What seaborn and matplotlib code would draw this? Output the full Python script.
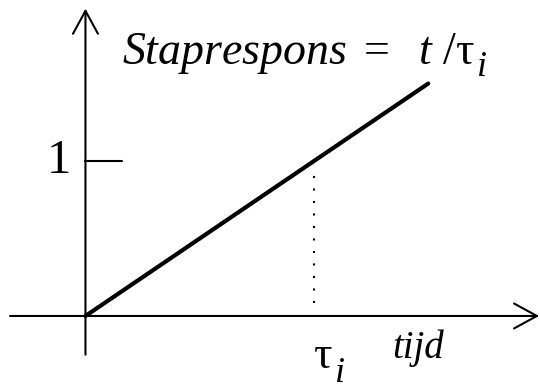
import matplotlib
matplotlib.use('Agg')
import matplotlib.pyplot as plt
import seaborn as sns

sns.set_style('white')
serif = 'Liberation Serif'
plt.rcParams['font.family'] = [serif, 'DejaVu Serif']
plt.rcParams['text.color'] = 'black'
plt.rcParams['mathtext.fontset'] = 'custom'
plt.rcParams['mathtext.rm'] = serif
plt.rcParams['mathtext.it'] = serif + ':italic'

# step response of an integrator: t / tau_i
tijd = [0.0, 1.5]
respons = [0.0, 1.5]
tau_i = 1.0
y_ticks = [1]
y_tick_labels = ['1']
x_label = 'tijd'
formula = r'$Staprespons\ =\ \ t\ /\mathrm{\tau}$'
subscript = 'i'

fig = plt.figure(figsize=(5.4, 3.84), dpi=100)
ax = fig.add_axes([0, 0, 1, 1])
ax.set_xlim(-0.374, 1.989)
ax.set_ylim(-0.439, 2.039)
ax.axis('off')

# axes with open arrow heads
arrow = dict(arrowstyle='->,head_length=1.65,head_width=0.9', lw=1.5,
             color='black', shrinkA=0, shrinkB=0, mutation_scale=10)
ax.annotate('', xy=(1.985, 0), xytext=(-0.33, 0), arrowprops=arrow)
ax.annotate('', xy=(0, 1.983), xytext=(0, -0.25), arrowprops=arrow)

# ramp response
sns.lineplot(x=tijd, y=respons, ax=ax, color='black', linewidth=3)

# tick mark at 1
for val, lab in zip(y_ticks, y_tick_labels):
    ax.plot([0, 0.162], [val, val], color='black', lw=1.5)
    ax.text(-0.116, val, lab, ha='center', va='center', fontsize=35)

# dotted guide at tau_i
ax.plot([tau_i, tau_i], [0.084, 0.91], color='black', lw=1.5,
        linestyle=(0, (1, 5)))

tau_txt = ax.text(tau_i, -0.335, '\u03c4', ha='left', va='baseline', fontsize=33)
ax.text(1.341, -0.271, x_label, ha='left', va='baseline', fontsize=28,
        style='italic')
form_txt = ax.text(0.16, 1.626, formula, ha='left', va='baseline', fontsize=33)

# subscripts placed right after the tau glyphs, dropped below the baseline
fig.canvas.draw()
renderer = fig.canvas.get_renderer()
for txt, drop in [(form_txt, 12), (tau_txt, 14)]:
    bb = txt.get_window_extent(renderer)
    base = ax.transData.transform(txt.get_position())[1]
    ax.text(bb.x1 + 2, base - drop, subscript, transform=None,
            ha='left', va='baseline', fontsize=26, style='italic')

fig.savefig('out.png', dpi=100, facecolor='white')
